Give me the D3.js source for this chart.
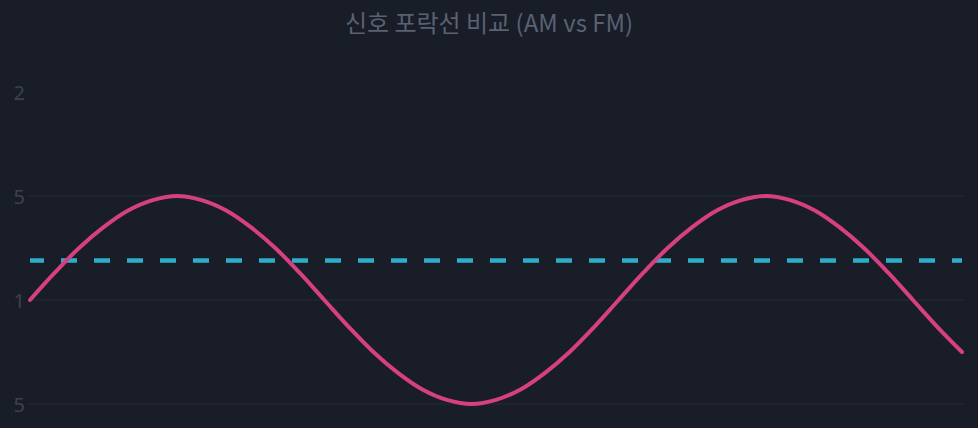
<!DOCTYPE html>
<html>
<head>
<meta charset="utf-8">
<script src="https://cdn.jsdelivr.net/npm/d3@7"></script>
<style>
  html, body { margin: 0; padding: 0; background: #181d28; overflow: hidden; }
  svg { display: block; }
</style>
</head>
<body>
<div id="grafico"></div>
<script>
// datos
const titulo = '신호 포락선 비교 (AM vs FM)';
const amEnvolvente = [1.00, 1.13, 1.25, 1.35, 1.43, 1.48, 1.50, 1.48, 1.43, 1.35, 1.25, 1.13, 1.00,
    0.87, 0.75, 0.65, 0.57, 0.52, 0.50, 0.52, 0.57, 0.65, 0.75, 0.87, 1.00,
    1.13, 1.25, 1.35, 1.43, 1.48, 1.50, 1.48, 1.43, 1.35, 1.25, 1.13, 1.00, 0.87, 0.75];
const fmEnvolvente = [1.19, 1.19, 1.19, 1.19, 1.19, 1.19, 1.19, 1.19, 1.19, 1.19, 1.19, 1.19, 1.19,
    1.19, 1.19, 1.19, 1.19, 1.19, 1.19, 1.19, 1.19, 1.19, 1.19, 1.19, 1.19,
    1.19, 1.19, 1.19, 1.19, 1.19, 1.19, 1.19, 1.19, 1.19, 1.19, 1.19, 1.19, 1.19, 1.19];
const marcasY = [0.5, 1, 1.5, 2];
const etiquetasY = ['0.5', '1', '1.5', '2'];
const lineasGuia = [0.5, 1, 1.5];

const ancho = 978, alto = 428;
const margen = { izq: 29, der: 14, arr: 92, abj: 24 };

let svg = d3.select('#grafico').append('svg')
    .attr('width', ancho)
    .attr('height', alto);

let x = d3.scaleLinear()
    .domain([0, amEnvolvente.length - 1])
    .range([margen.izq + 1, ancho - margen.der - 2]);

let y = d3.scaleLinear()
    .domain([0.5, 2])
    .range([alto - margen.abj, margen.arr]);

// titulo
svg.append('text')
    .attr('x', ancho / 2)
    .attr('y', 32)
    .attr('text-anchor', 'middle')
    .attr('fill', '#5a6172')
    .style('font-family', '"Noto Sans CJK KR", "Noto Sans", sans-serif')
    .style('font-size', '24px')
    .text(titulo);

// lineas guia
svg.append('g').selectAll('line').data(lineasGuia).enter().append('line')
    .attr('x1', margen.izq - 1)
    .attr('x2', ancho - margen.der)
    .attr('y1', d => y(d))
    .attr('y2', d => y(d))
    .attr('stroke', '#262b38')
    .attr('stroke-width', 1.2);

// eje y (recortado por la izquierda como en el original)
svg.append('clipPath').attr('id', 'recorte')
    .append('rect').attr('x', 12).attr('y', 0).attr('width', 40).attr('height', alto);

let grupoEje = svg.append('g').attr('clip-path', 'url(#recorte)');
let ejeY = grupoEje.append('g')
    .attr('transform', 'translate(' + (margen.izq - 4) + ',0)')
    .call(d3.axisLeft(y).tickValues(marcasY).tickSize(0).tickPadding(0)
        .tickFormat((d, i) => etiquetasY[i]));
ejeY.select('.domain').remove();
ejeY.selectAll('text')
    .attr('fill', '#3b4150')
    .attr('dy', '0.35em')
    .style('font-family', '"Noto Sans", sans-serif')
    .style('font-size', '20px');

// envolvente FM (discontinua)
let lineaFm = d3.line()
    .x((d, i) => x(i))
    .y(d => y(d));

svg.append('path')
    .datum(fmEnvolvente)
    .attr('d', lineaFm)
    .attr('fill', 'none')
    .attr('stroke', '#2eadc8')
    .attr('stroke-width', 4.5)
    .attr('stroke-dasharray', '16 17')
    .attr('stroke-dashoffset', 2);

// envolvente AM
let lineaAm = d3.line()
    .x((d, i) => x(i))
    .y(d => y(d))
    .curve(d3.curveCatmullRom);

svg.append('path')
    .datum(amEnvolvente)
    .attr('d', lineaAm)
    .attr('fill', 'none')
    .attr('stroke', '#d63f82')
    .attr('stroke-width', 4)
    .attr('stroke-linecap', 'round');
</script>
</body>
</html>
